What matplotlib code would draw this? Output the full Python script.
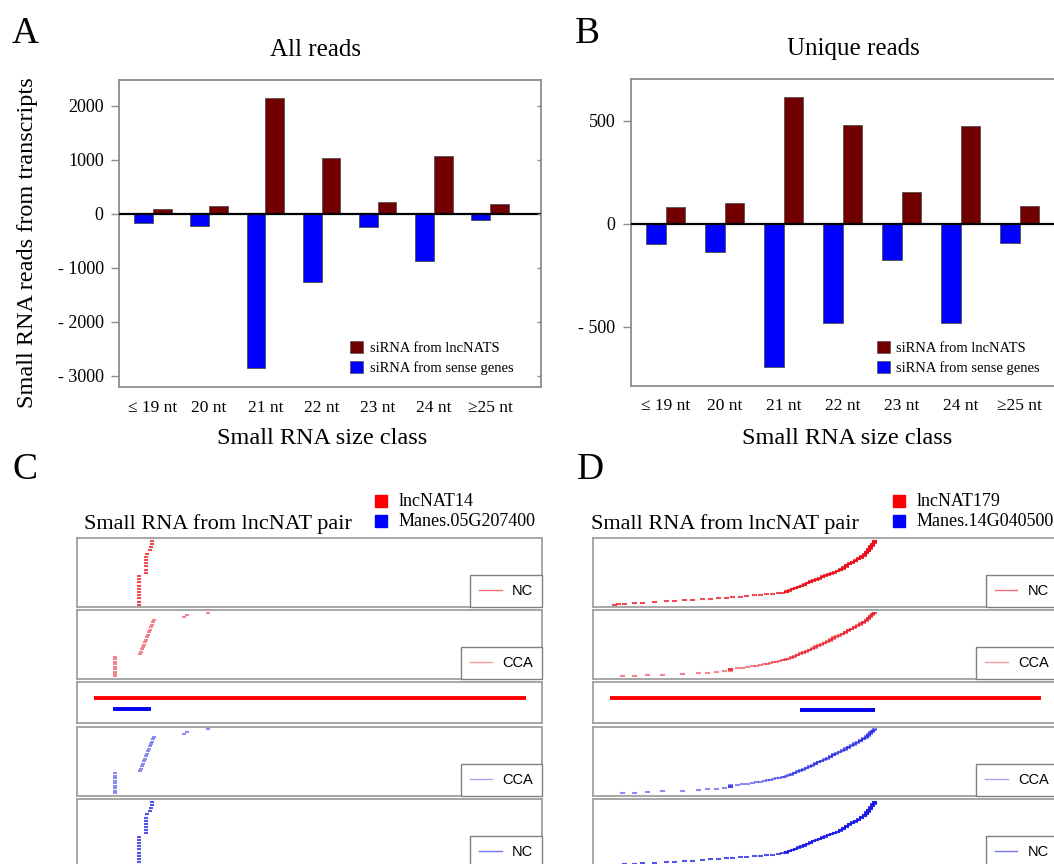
import numpy as np
import matplotlib
matplotlib.use("Agg")
import matplotlib.pyplot as plt
from matplotlib.lines import Line2D
from matplotlib.patches import Patch

plt.rcParams['font.family'] = ['Liberation Serif', 'DejaVu Serif']

W, H = 1054, 864

# ---- panels A / B : small RNA size classes ----
size_classes = ['\u2264 19 nt', '20 nt', '21 nt', '22 nt', '23 nt', '24 nt', '\u226525 nt']
all_lncnat = [90, 150, 2140, 1030, 220, 1080, 180]
all_sense = [-160, -220, -2850, -1260, -235, -880, -120]
uniq_lncnat = [80, 102, 615, 481, 152, 476, 87]
uniq_sense = [-100, -139, -694, -481, -176, -481, -95]

all_ticks = [2000, 1000, 0, -1000, -2000, -3000]
all_ticklabels = ['2000', '1000', '0', '- 1000', '- 2000', '- 3000']
uniq_ticks = [500, 0, -500]
uniq_ticklabels = ['500', '0', '- 500']

# ---- panels C / D : reads along the lncNAT (nt) ----
READ_LEN = 21
c_lnc_span = [0, 2157]
c_gene_span = [95, 283]
c_nc_pos = [215, 250, 254, 268, 274, 278, 280]
c_nc_cnt = [10, 6, 1, 1, 1, 1, 1]
c_cca_pos = [92, 217, 223, 228, 233, 238, 243, 248, 253, 257, 263, 268, 273, 278, 283,
             288, 437, 453, 558]
c_cca_cnt = [9, 1, 1, 1, 1, 1, 1, 1, 1, 1, 1, 1, 1, 1, 1, 1, 1, 1, 1]

d_lnc_span = [0, 1724]
d_gene_span = [761, 1060]
d_nc_pos = [8, 24, 48, 88, 120, 168, 216, 248, 288, 320, 360, 392, 424, 456, 480, 512,
            536, 568, 592, 616, 640, 664, 680,
            696, 708, 720, 732, 744, 756, 768, 780, 792, 804, 816, 828, 840, 852, 864,
            876, 888, 900, 912, 924, 936, 948, 960, 972, 984, 996, 1008, 1016, 1024,
            1032, 1040, 1048]
d_nc_cnt = [1] * 23 + [3, 2, 2, 2, 2, 2, 3, 2, 3, 2, 2, 2, 3, 2, 2, 2, 2, 2, 3, 4, 4, 3,
                       3, 3, 3, 4, 4, 4, 5, 5, 5, 5]
d_cca_pos = [40, 88, 140, 200, 280, 344, 380, 416, 448, 472, 500, 520, 540, 560, 576,
             592, 608, 620, 632, 644, 656, 668, 680, 688, 696, 704,
             716, 728, 740, 752, 764, 776, 788, 800, 812, 824, 836, 848, 860, 872, 884,
             896, 908, 920, 932, 944, 956, 968, 980, 992, 1004, 1016, 1024, 1032, 1040,
             1048]
d_cca_cnt = [1] * 9 + [4] + [1] * 16 + [2, 2, 2, 2, 2, 2, 2, 2, 3, 2, 2, 2, 2, 3, 3, 2,
                                        2, 2, 3, 3, 2, 3, 2, 3, 3, 3, 3, 3, 3, 2]

LNC_RED = '#730000'
SENSE_BLUE = '#0000ff'
GRAY = '#8c8c8c'


def rect(l, t, r, b):
    return [l / W, 1 - b / H, (r - l) / W, (b - t) / H]


fig = plt.figure(figsize=(W / 100, H / 100), dpi=100)


def bar_panel(box, lnc, sense, ticks, ticklabels, ylim, xlim, legend_xy, right_ticks):
    ax = fig.add_axes(rect(*box))
    x = np.arange(len(size_classes)) * 3.0
    ax.bar(x - 0.5, sense, width=1, color=SENSE_BLUE, edgecolor='#505050', lw=0.6)
    ax.bar(x + 0.5, lnc, width=1, color=LNC_RED, edgecolor='#505050', lw=0.6)
    ax.axhline(0, color='black', lw=1.6, zorder=3)
    ax.set_xlim(xlim)
    ax.set_ylim(ylim)
    ax.set_yticks(ticks, ticklabels)
    ax.set_xticks(x, size_classes)
    ax.tick_params(axis='x', length=0, pad=9, labelsize=12.5)
    ax.tick_params(axis='y', length=6, width=1, color=GRAY, pad=5, labelsize=13)
    for s in ax.spines.values():
        s.set_color(GRAY)
        s.set_linewidth(1.3)
    if right_ticks:
        axr = ax.twinx()
        axr.set_ylim(ylim)
        axr.set_yticks(ticks)
        axr.tick_params(direction='in', length=3, width=1, color=GRAY, labelright=False)
        for s in axr.spines.values():
            s.set_visible(False)
    handles = [Patch(fc=LNC_RED, ec='#505050', lw=0.5), Patch(fc=SENSE_BLUE, ec='#505050', lw=0.5)]
    ax.legend(handles, ['siRNA from lncNATS', 'siRNA from sense genes'],
              loc='upper left', bbox_to_anchor=(legend_xy[0] / W, 1 - legend_xy[1] / H),
              bbox_transform=fig.transFigure, frameon=False, fontsize=10.5,
              handlelength=0.9, handleheight=0.9, handletextpad=0.45,
              borderpad=0, borderaxespad=0, labelspacing=0.4)
    return ax


bar_panel((119, 80, 541, 387), all_lncnat, all_sense, all_ticks, all_ticklabels,
          (-3204, 2481), (-1.815, 20.72), (350, 341), True)
bar_panel((630.7, 78.7, 1073.3, 385.7), uniq_lncnat, uniq_sense, uniq_ticks,
          uniq_ticklabels, (-786, 704), (-1.78, 20.72), (876.7, 341), False)

fig.text(25 / W, 1 - 34 / H, 'A', fontsize=27, ha='center', va='center')
fig.text(587.5 / W, 1 - 34 / H, 'B', fontsize=27, ha='center', va='center')
fig.text(315.7 / W, 1 - 50 / H, 'All reads', fontsize=18, ha='center', va='center')
fig.text(853.3 / W, 1 - 49 / H, 'Unique reads', fontsize=18, ha='center', va='center')
fig.text(321.7 / W, 1 - 438 / H, 'Small RNA size class', fontsize=17.5, ha='center', va='center')
fig.text(846.7 / W, 1 - 438 / H, 'Small RNA size class', fontsize=17.5, ha='center', va='center')
fig.text(27.7 / W, 1 - 243 / H, 'Small RNA reads from transcripts', fontsize=17.5,
         ha='center', va='center', rotation=90)

# ---- read tracks ----
track_tb = [(538.3, 607.3), (610, 679), (682.3, 723.3), (726.7, 795.7), (799, 868)]
NC_ALPHA, CCA_ALPHA = 0.75, 0.5
RED_R = (0.92, 0.05, 0.1)
BLUE_R = (0.1, 0.1, 0.9)


def style_track(ax):
    ax.set_xticks([])
    ax.set_yticks([])
    for s in ax.spines.values():
        s.set_color('#a0a0a0')
        s.set_linewidth(1.3)


def read_track(ax, pos, cnt, color, alpha, label, xlim):
    starts = np.repeat(pos, cnt)
    n = len(starts)
    ranks = np.arange(1, n + 1)
    ax.hlines(ranks, starts, starts + READ_LEN, colors=[color], alpha=alpha, lw=1.5)
    pad = 0.04 * (n - 1)
    ax.set_ylim(1 - pad, n + pad)
    ax.set_xlim(xlim)
    style_track(ax)
    leg = ax.legend([Line2D([], [], color=color, alpha=alpha * 0.8, lw=1)], [label],
                    loc='lower right', borderaxespad=0, fancybox=False,
                    edgecolor='#808080', framealpha=1,
                    prop={'family': 'Liberation Sans', 'size': 10.5},
                    handlelength=1.55, borderpad=0.62, handletextpad=0.7)
    leg.get_frame().set_linewidth(1.0)


def pair_panel(left, lnc_span, gene_span, nc, cca, xlim, gene_y):
    axes = [fig.add_axes(rect(left, t, left + 465, b)) for t, b in track_tb]
    read_track(axes[0], nc[0], nc[1], RED_R, NC_ALPHA, 'NC', xlim)
    read_track(axes[1], cca[0], cca[1], RED_R, CCA_ALPHA, 'CCA', xlim)
    read_track(axes[3], cca[0], cca[1], BLUE_R, CCA_ALPHA, 'CCA', xlim)
    read_track(axes[4], nc[0], nc[1], BLUE_R, NC_ALPHA, 'NC', xlim)
    g = axes[2]
    g.hlines([0.62], [lnc_span[0]], [lnc_span[1]], color='#ff0000', lw=2.8)
    g.hlines([gene_y], [gene_span[0]], [gene_span[1]], color='#0000ee', lw=2.8)
    g.set_xlim(xlim)
    g.set_ylim(0, 1)
    style_track(g)


pair_panel(77.3, c_lnc_span, c_gene_span, (c_nc_pos, c_nc_cnt), (c_cca_pos, c_cca_cnt),
           (-85, 2240), 0.356)
pair_panel(592.7, d_lnc_span, d_gene_span, (d_nc_pos, d_nc_cnt), (d_cca_pos, d_cca_cnt),
           (-69, 1791), 0.317)

for letter, lx in (('C', 25), ('D', 590)):
    fig.text(lx / W, 1 - 470 / H, letter, fontsize=27, ha='center', va='center')

pair_names = [('lncNAT14', 'Manes.05G207400', 218, 375),
              ('lncNAT179', 'Manes.14G040500', 725, 893)]
for lnc, gene, tx, sx in pair_names:
    fig.text(tx / W, 1 - 524 / H, 'Small RNA from lncNAT pair', fontsize=16,
             ha='center', va='center')
    for name, col, yy in ((lnc, '#ff0000', 501), (gene, '#0000ff', 521)):
        fig.patches.append(plt.Rectangle((sx / W, 1 - (yy + 6) / H), 12 / W, 12 / H,
                                         transform=fig.transFigure, color=col))
        fig.text((sx + 24) / W, 1 - yy / H, name, fontsize=13, ha='left', va='center')

fig.savefig('out.png', dpi=100)
